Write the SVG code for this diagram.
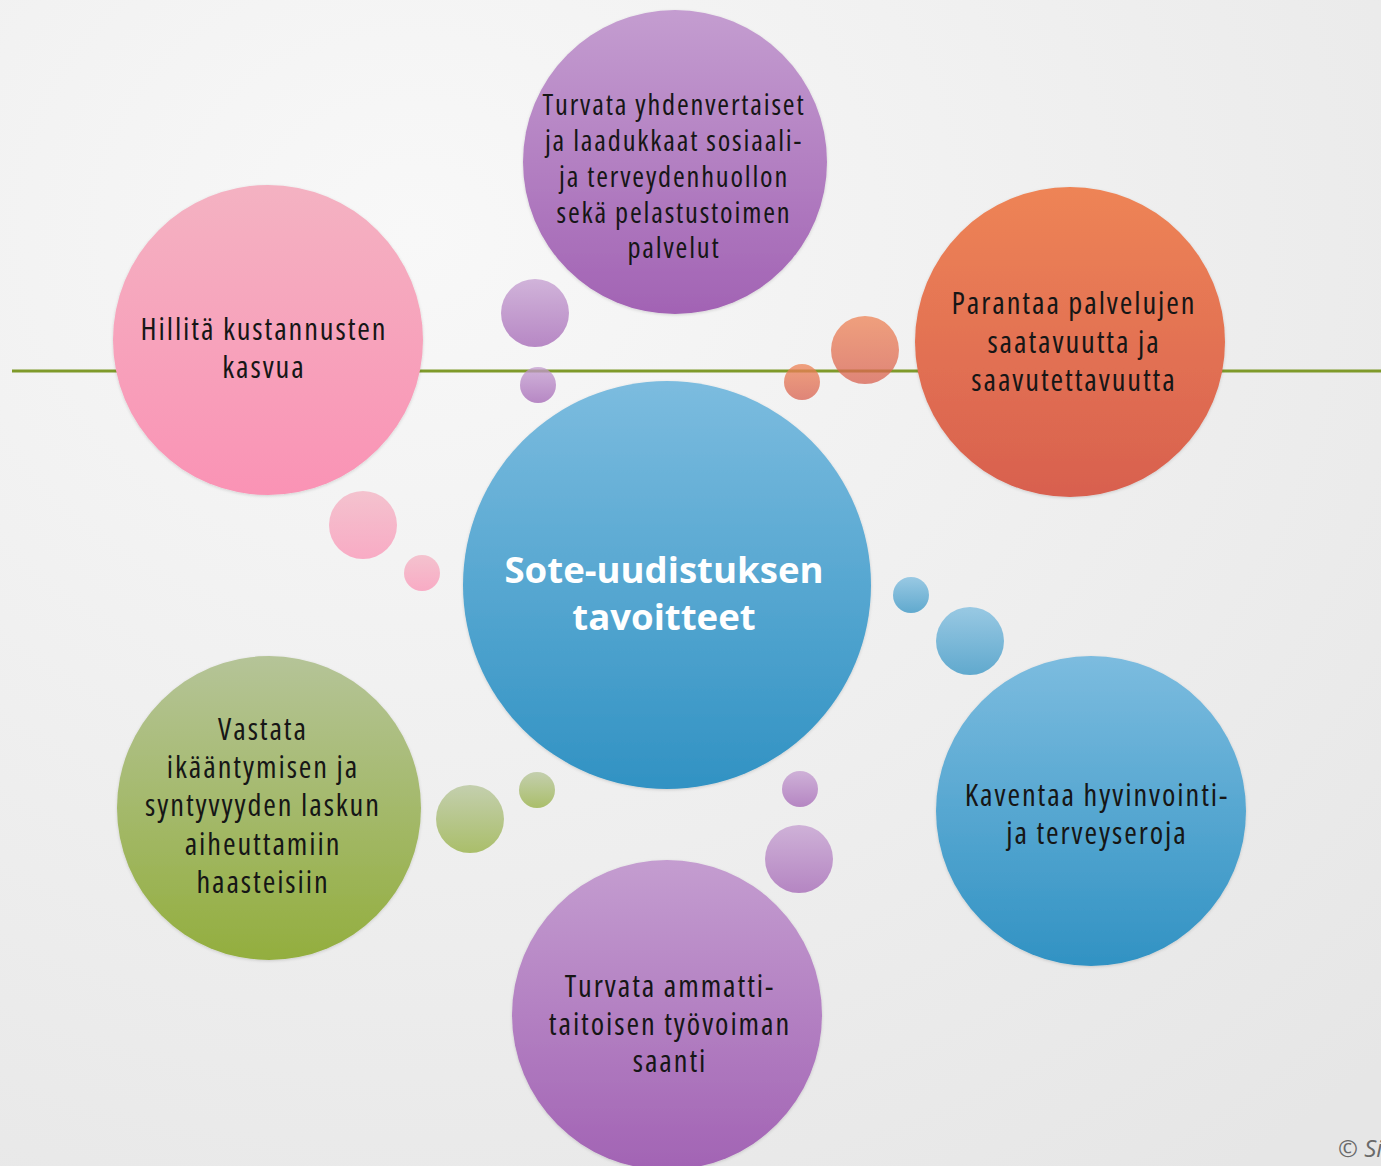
<svg xmlns="http://www.w3.org/2000/svg" width="1381" height="1166" viewBox="0 0 1381 1166">
<defs>
<radialGradient id="bg" cx="0.3" cy="0.2" r="1">
<stop offset="0" stop-color="#f8f8f8"/>
<stop offset="1" stop-color="#e6e6e6"/>
</radialGradient>
<linearGradient id="gBlue" x1="0" y1="0" x2="0" y2="1"><stop offset="0" stop-color="#7cbcdf"/><stop offset="1" stop-color="#3192c3"/></linearGradient>
<linearGradient id="gPurple" x1="0" y1="0" x2="0" y2="1"><stop offset="0" stop-color="#c49dd0"/><stop offset="1" stop-color="#a263b4"/></linearGradient>
<linearGradient id="gPink" x1="0" y1="0" x2="0" y2="1"><stop offset="0" stop-color="#f4b2c2"/><stop offset="1" stop-color="#fa93b5"/></linearGradient>
<linearGradient id="gOrange" x1="0" y1="0" x2="0" y2="1"><stop offset="0" stop-color="#ee8456"/><stop offset="1" stop-color="#d8604f"/></linearGradient>
<linearGradient id="gGreen" x1="0" y1="0" x2="0" y2="1"><stop offset="0" stop-color="#b5c498"/><stop offset="1" stop-color="#93ae3e"/></linearGradient>
<filter id="sh" x="-10%" y="-10%" width="120%" height="120%"><feDropShadow dx="0" dy="1" stdDeviation="1.5" flood-color="#000" flood-opacity="0.15"/></filter>
</defs>
<style>
.lbl{font-family:"Open Sans","Noto Sans","Liberation Sans",sans-serif;font-stretch:condensed;font-size:30.5px;letter-spacing:1.9px;fill:#161616;text-anchor:middle}
.sm{font-size:28.5px;letter-spacing:1.8px}
.ttl{font-family:"Open Sans","Noto Sans","Liberation Sans",sans-serif;font-weight:bold;font-size:36.6px;fill:#ffffff;text-anchor:middle}
.bub{opacity:0.75}
.big{filter:url(#sh)}
</style>
<rect width="1381" height="1166" fill="url(#bg)"/>
<g id="connectors">
<line x1="12" y1="371" x2="1381" y2="371" stroke="#7f9a2a" stroke-width="3"/>
<circle class="bub" cx="535" cy="313" r="34" fill="url(#gPurple)"/>
<circle class="bub" cx="538" cy="385" r="18" fill="url(#gPurple)"/>
<circle class="bub" cx="865" cy="350" r="34" fill="url(#gOrange)"/>
<circle class="bub" cx="802" cy="382" r="18" fill="url(#gOrange)"/>
<circle class="bub" cx="363" cy="525" r="34" fill="url(#gPink)"/>
<circle class="bub" cx="422" cy="573" r="18" fill="url(#gPink)"/>
<circle class="bub" cx="911" cy="595" r="18" fill="url(#gBlue)"/>
<circle class="bub" cx="970" cy="641" r="34" fill="url(#gBlue)"/>
<circle class="bub" cx="470" cy="819" r="34" fill="url(#gGreen)"/>
<circle class="bub" cx="537" cy="790" r="18" fill="url(#gGreen)"/>
<circle class="bub" cx="800" cy="789" r="18" fill="url(#gPurple)"/>
<circle class="bub" cx="799" cy="859" r="34" fill="url(#gPurple)"/>
</g>
<g id="center">
<circle class="big" cx="667" cy="585" r="204" fill="url(#gBlue)"/>
<text class="ttl" x="664" y="583">Sote-uudistuksen</text>
<text class="ttl" x="664" y="630">tavoitteet</text>
</g>
<g id="top">
<circle class="big" cx="675" cy="162" r="152" fill="url(#gPurple)"/>
<text class="lbl sm" x="674" y="115">Turvata yhdenvertaiset</text>
<text class="lbl sm" x="674" y="151">ja laadukkaat sosiaali-</text>
<text class="lbl sm" x="674" y="187">ja terveydenhuollon</text>
<text class="lbl sm" x="674" y="223">sekä pelastustoimen</text>
<text class="lbl sm" x="674" y="258">palvelut</text>
</g>
<g id="pink">
<circle class="big" cx="268" cy="340" r="155" fill="url(#gPink)"/>
<text class="lbl" x="264" y="340">Hillitä kustannusten</text>
<text class="lbl" x="264" y="378">kasvua</text>
</g>
<g id="orange">
<circle class="big" cx="1070" cy="342" r="155" fill="url(#gOrange)"/>
<text class="lbl" x="1074" y="314">Parantaa palvelujen</text>
<text class="lbl" x="1074" y="353">saatavuutta ja</text>
<text class="lbl" x="1074" y="391">saavutettavuutta</text>
</g>
<g id="green">
<circle class="big" cx="269" cy="808" r="152" fill="url(#gGreen)"/>
<text class="lbl" x="263" y="740">Vastata</text>
<text class="lbl" x="263" y="778">ikääntymisen ja</text>
<text class="lbl" x="263" y="816">syntyvyyden laskun</text>
<text class="lbl" x="263" y="855">aiheuttamiin</text>
<text class="lbl" x="263" y="893">haasteisiin</text>
</g>
<g id="blue">
<circle class="big" cx="1091" cy="811" r="155" fill="url(#gBlue)"/>
<text class="lbl" x="1097" y="806">Kaventaa hyvinvointi-</text>
<text class="lbl" x="1097" y="844">ja terveyseroja</text>
</g>
<g id="bottom">
<circle class="big" cx="667" cy="1015" r="155" fill="url(#gPurple)"/>
<text class="lbl" x="670" y="997">Turvata ammatti-</text>
<text class="lbl" x="670" y="1035">taitoisen työvoiman</text>
<text class="lbl" x="670" y="1072">saanti</text>
</g>
<text x="1338" y="1157" font-family="Open Sans, Liberation Sans, sans-serif" font-size="24" font-style="italic" fill="#6a6a6a">© Si</text>
</svg>
